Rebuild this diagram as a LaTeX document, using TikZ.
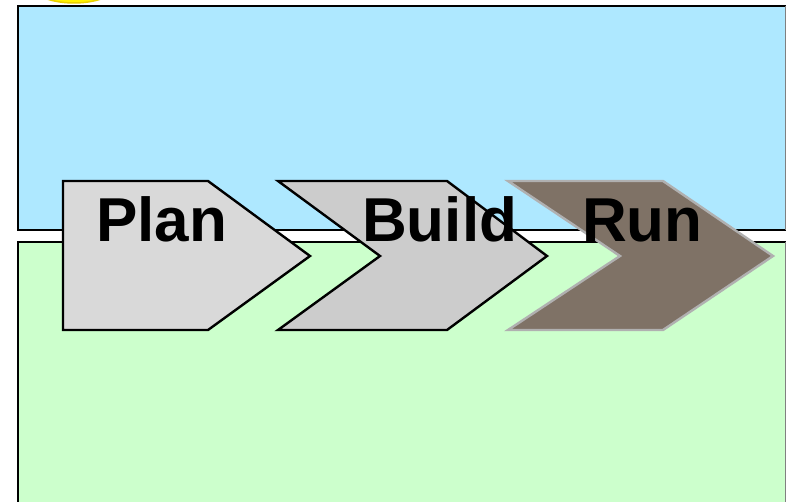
\documentclass[tikz,border=0pt]{standalone}
\usepackage{fontspec}
\setmainfont{Liberation Sans}
\definecolor{skyband}{HTML}{AEE8FF}
\definecolor{grassband}{HTML}{CCFFCC}
\definecolor{planfill}{HTML}{D9D9D9}
\definecolor{buildfill}{HTML}{CCCCCC}
\definecolor{runfill}{HTML}{7F7266}
\definecolor{runedge}{HTML}{B0B0B0}
\definecolor{sunfill}{HTML}{FFF200}
\definecolor{sunedge}{HTML}{E8D000}
\tikzset{
  band/.style={draw=black, line width=2.2pt},
  chev/.style={line width=2.4pt, line join=miter},
  phase/.style={font=\bfseries\fontsize{62}{62}\selectfont, anchor=base west, inner sep=0pt, text=black},
}
\begin{document}
\begin{tikzpicture}[x=1pt,y=-1pt]
\useasboundingbox (0,0) rectangle (786,502);
\begin{scope}
\clip (0,0) rectangle (786,502);
% sun peeking in at the top
\draw[fill=sunfill, draw=sunedge, line width=1.5pt] (74,-18) ellipse [x radius=46, y radius=21];
% sky and ground bands
\fill[skyband] (18,6) rectangle (790,230);
\draw[band] (790,6) -- (18,6) -- (18,230) -- (790,230);
\fill[grassband] (18,242) rectangle (790,510);
\draw[band] (790,242) -- (18,242) -- (18,510);
\draw[gray, line width=0.6pt] (785,6) -- (785,230);
\draw[gray, line width=0.6pt] (785,242) -- (785,502);
% process chevrons
\draw[chev, fill=planfill, draw=black] (63,181) -- (208,181) -- (310,256) -- (208,330) -- (63,330) -- cycle;
\draw[chev, fill=buildfill, draw=black] (278,181) -- (447,181) -- (547,256) -- (447,330) -- (278,330) -- (380,256) -- cycle;
\draw[chev, fill=runfill, draw=runedge] (508,181) -- (663,181) -- (773,256) -- (663,330) -- (508,330) -- (620,256) -- cycle;
\end{scope}
\node[phase] (plan) at (96,242) {Plan};
\node[phase] (build) at (362,242) {Build};
\node[phase] (run) at (582,242) {Run};
\end{tikzpicture}
\end{document}
